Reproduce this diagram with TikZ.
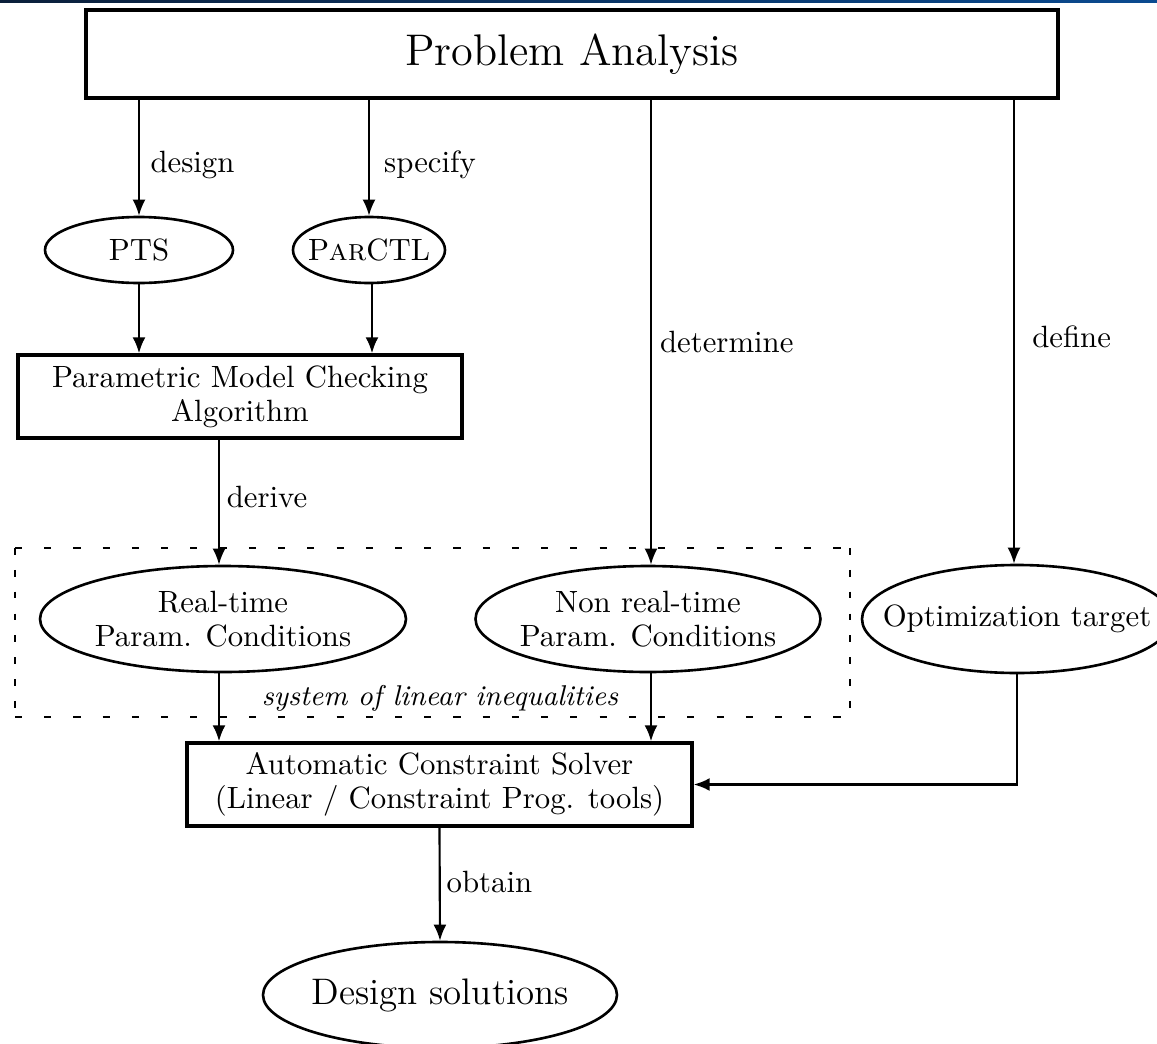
\documentclass[tikz,border=0pt]{standalone}
\usetikzlibrary{shapes.geometric,arrows.meta,calc}
\def\pxu{0.325pt}
\definecolor{navyA}{HTML}{0B1F3A}
\definecolor{navyB}{HTML}{0A4A90}
\begin{document}
\begin{tikzpicture}[x=0.325pt,y=-0.325pt,
  every node/.style={font=\fontsize{10pt}{11pt}\selectfont},
  box/.style={draw, rectangle, line width=1.1pt, inner sep=0pt, align=center},
  oval/.style={draw, ellipse, line width=0.85pt, inner sep=-40pt, align=center},
  arr/.style={line width=0.7pt, -{Latex[length=5.2pt,width=4.2pt]}},
  lbl/.style={inner sep=0pt, anchor=west},
  hdash/.style={line width=0.8pt, dash pattern=on 2.3pt off 7.2pt},
  vdash/.style={line width=0.8pt, dash pattern=on 2.2pt off 4.9pt}
]
\clip (0,0) rectangle (1157,1044);
\fill[white] (0,0) rectangle (1157,1044);
\shade[left color=navyA, right color=navyB] (0,0) rectangle (1157,2.5);

% nodes
\node[box, minimum width={972*\pxu}, minimum height={88*\pxu}] (PA) at (572,54) {\Large Problem Analysis};
\node[oval, minimum width={188*\pxu}, minimum height={66*\pxu}] (PTS) at (139,250) {PTS};
\node[oval, minimum width={152*\pxu}, minimum height={66*\pxu}] (PCTL) at (369,250) {P\textsc{ar}CTL};
\node[box, minimum width={444*\pxu}, minimum height={83*\pxu}] (PMC) at (240,396.5) {Parametric Model Checking\\Algorithm};
\node[oval, minimum width={366*\pxu}, minimum height={106*\pxu}] (RT) at (223,619) {Real-time\\Param. Conditions};
\node[oval, minimum width={345*\pxu}, minimum height={106*\pxu}] (NRT) at (648,619) {Non real-time\\Param. Conditions};
\node[oval, minimum width={310*\pxu}, minimum height={108*\pxu}] (OT) at (1017,619) {Optimization target};
\node[box, minimum width={505*\pxu}, minimum height={83*\pxu}] (CS) at (439.5,784.5) {Automatic Constraint Solver\\(Linear / Constraint Prog. tools)};
\node[oval, minimum width={354*\pxu}, minimum height={106*\pxu}] (DS) at (440,995) {\large Design solutions};

% dashed grouping box
\draw[hdash] (15,548) -- (850,548);
\draw[hdash] (15,717) -- (850,717);
\draw[vdash] (15,548) -- (15,717);
\draw[vdash] (850,548) -- (850,717);
\node[font=\fontsize{9.3pt}{11pt}\selectfont\itshape, inner sep=0pt] (SLI) at (440,698) {system of linear inequalities};

% connectors
\draw[arr] (PA.south -| PTS.north) -- (PTS.north) node[lbl, pos=0.56, xshift=3.4pt] {design};
\draw[arr] (PA.south -| PCTL.north) -- (PCTL.north) node[lbl, pos=0.56, xshift=4.6pt] {specify};
\draw[arr] ($(PA.south -| NRT.north)+(3,0)$) -- ($(NRT.north)+(3,0)$) node[lbl, pos=0.52, xshift=2.6pt] {determine};
\draw[arr] ($(PA.south -| OT.north)+(-3,0)$) -- ($(OT.north)+(-3,0)$) node[lbl, pos=0.51, xshift=5.6pt] {define};
\draw[arr] (PTS.south) -- (PTS.south |- PMC.north);
\draw[arr] ($(PCTL.south)+(3,0)$) -- ($(PCTL.south |- PMC.north)+(3,0)$);
\draw[arr] ($(PMC.south -| RT.north)+(-4,0)$) -- ($(RT.north)+(-4,0)$) node[lbl, pos=0.46, xshift=2.2pt] {derive};
\draw[arr] ($(RT.south)+(-4,0)$) -- ($(RT.south |- CS.north)+(-4,0)$);
\draw[arr] ($(NRT.south)+(3,0)$) -- ($(NRT.south |- CS.north)+(3,0)$);
\draw[arr] (OT.south) |- (CS.east);
\draw[arr] (CS.south) -- (DS.north) node[lbl, pos=0.48, xshift=1.9pt] {obtain};
\end{tikzpicture}
\end{document}
